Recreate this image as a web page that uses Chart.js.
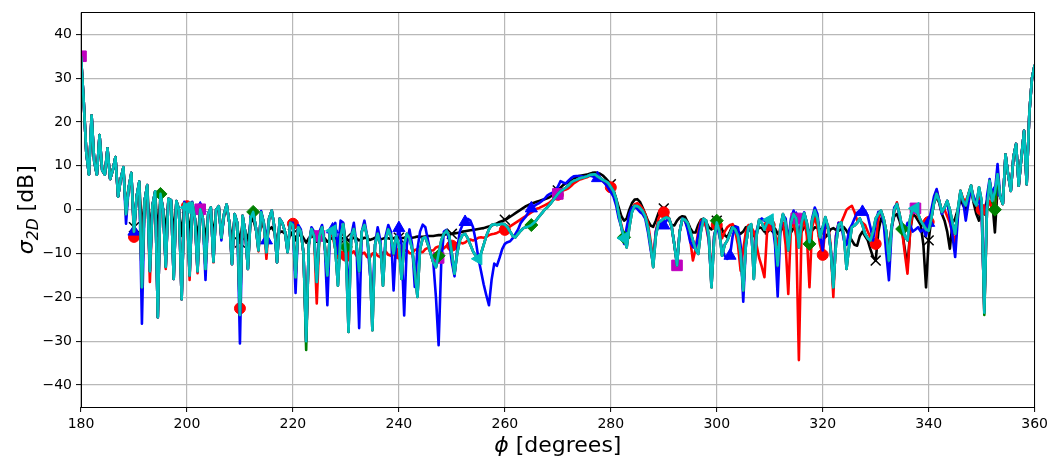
<!DOCTYPE html>
<html>
<head>
<meta charset="utf-8">
<script src="https://cdn.jsdelivr.net/npm/chart.js@4.4.1/dist/chart.umd.min.js"></script>
<style>
  html, body { margin: 0; padding: 0; background: #ffffff; }
  canvas { display: block; }
</style>
</head>
<body>
<canvas id="rcs" width="1052" height="459"></canvas>
<script>
// Observation angle phi [degrees], sampled every half degree
const phi = [
  180,180.5,181,181.5,182,182.5,183,183.5,184,184.5,
  185,185.5,186,186.5,187,187.5,188,188.5,189,189.5,
  190,190.5,191,191.5,192,192.5,193,193.5,194,194.5,
  195,195.5,196,196.5,197,197.5,198,198.5,199,199.5,
  200,200.5,201,201.5,202,202.5,203,203.5,204,204.5,
  205,205.5,206,206.5,207,207.5,208,208.5,209,209.5,
  210,210.5,211,211.5,212,212.5,213,213.5,214,214.5,
  215,215.5,216,216.5,217,217.5,218,218.5,219,219.5,
  220,220.5,221,221.5,222,222.5,223,223.5,224,224.5,
  225,225.5,226,226.5,227,227.5,228,228.5,229,229.5,
  230,230.5,231,231.5,232,232.5,233,233.5,234,234.5,
  235,235.5,236,236.5,237,237.5,238,238.5,239,239.5,
  240,240.5,241,241.5,242,242.5,243,243.5,244,244.5,
  245,245.5,246,246.5,247,247.5,248,248.5,249,249.5,
  250,250.5,251,251.5,252,252.5,253,253.5,254,254.5,
  255,255.5,256,256.5,257,257.5,258,258.5,259,259.5,
  260,260.5,261,261.5,262,262.5,263,263.5,264,264.5,
  265,265.5,266,266.5,267,267.5,268,268.5,269,269.5,
  270,270.5,271,271.5,272,272.5,273,273.5,274,274.5,
  275,275.5,276,276.5,277,277.5,278,278.5,279,279.5,
  280,280.5,281,281.5,282,282.5,283,283.5,284,284.5,
  285,285.5,286,286.5,287,287.5,288,288.5,289,289.5,
  290,290.5,291,291.5,292,292.5,293,293.5,294,294.5,
  295,295.5,296,296.5,297,297.5,298,298.5,299,299.5,
  300,300.5,301,301.5,302,302.5,303,303.5,304,304.5,
  305,305.5,306,306.5,307,307.5,308,308.5,309,309.5,
  310,310.5,311,311.5,312,312.5,313,313.5,314,314.5,
  315,315.5,316,316.5,317,317.5,318,318.5,319,319.5,
  320,320.5,321,321.5,322,322.5,323,323.5,324,324.5,
  325,325.5,326,326.5,327,327.5,328,328.5,329,329.5,
  330,330.5,331,331.5,332,332.5,333,333.5,334,334.5,
  335,335.5,336,336.5,337,337.5,338,338.5,339,339.5,
  340,340.5,341,341.5,342,342.5,343,343.5,344,344.5,
  345,345.5,346,346.5,347,347.5,348,348.5,349,349.5,
  350,350.5,351,351.5,352,352.5,353,353.5,354,354.5,
  355,355.5,356,356.5,357,357.5,358,358.5,359,359.5,
  360
];

// sigma_2D [dB] for each solver
const sigmaBlack = [
  35,25,13,8,21.5,11,8,17,9,8,
  14,7,9,12,3,7,9.5,0,5,8,
  -4,3,6,-5,2,5.3,-5,1,4,-6,
  3.3,0,-5,2.3,2,-6,1.8,-0.5,-6,1.2,
  0.3,-6,1.3,-2,-6.5,-0.2,-2.5,-6.5,-1.5,0.2,
  -6.5,-0.5,0.5,-6,-1.5,0.8,-3,-7,-2,-4,
  -7.5,-3,-5,-7,-3,-2,-4.5,-7,-3,-4,
  -6.5,-4.5,-4,-5,-7,-5,-5,-5.5,-7,-5.5,
  -5.5,-7,-6,-5.5,-6.5,-7.5,-6.5,-6,-6.3,-7.3,
  -6.8,-6.2,-6.5,-7.3,-6.8,-6.3,-6.4,-7.2,-6.8,-6.4,
  -6.5,-7,-6.7,-6.4,-6.5,-7,-6.7,-6.4,-6.5,-6.9,
  -6.7,-6.4,-6.5,-6.8,-6.6,-6.4,-6.5,-6.7,-6.5,-6.3,
  -6.4,-6.5,-6.4,-6.2,-6.3,-6.4,-6.3,-6.1,-6.2,-6.2,
  -6.1,-6,-6,-6,-5.9,-5.8,-5.8,-5.7,-5.6,-5.6,
  -5.5,-5.4,-5.3,-5.2,-5,-4.9,-4.8,-4.7,-4.6,-4.5,
  -4.4,-4.3,-4.2,-4,-3.8,-3.6,-3.4,-3.1,-2.8,-2.6,
  -2.3,-2,-1.6,-1.2,-0.8,-0.4,0,0.4,0.8,1.1,
  1.4,1.6,1.8,2,2.2,2.4,2.6,2.9,3.3,3.8,
  4.4,5,5.6,6,6.3,6.6,7,7.4,7.7,7.8,
  7.9,8,8.2,8.4,8.5,8.4,8.2,7.8,7.2,6.5,
  5.8,4.5,2.5,0.5,-1.5,-2.5,-2,0,1.5,2.3,
  2.4,1.8,0.5,-1,-2.5,-3.6,-3.9,-2.5,-0.8,0.2,
  0.3,-0.8,-2.5,-3.5,-3.6,-2.5,-1.8,-1.5,-1.6,-2.8,
  -4.2,-5.2,-5.2,-3.5,-2.3,-2.1,-2.8,-4,-4.5,-3.5,
  -2.5,-3,-4.5,-5.8,-6.3,-5,-3.6,-3.8,-5,-5.5,
  -5,-4,-3.8,-5,-6,-5,-4,-4.2,-5,-5.2,
  -4.5,-4,-4.3,-5.5,-5,-4,-4.2,-5.5,-5.2,-4.2,
  -4.5,-5.8,-5,-4,-4.2,-5,-4.8,-4,-4.2,-4.5,
  -5,-6.3,-5.5,-4.5,-4.2,-4.6,-4.8,-4.5,-4,-4.8,
  -6,-7,-8,-8.2,-6,-5,-6,-7,-9,-10.8,
  -11.6,-5,-2,-3,-6,-8.5,-4,-1.5,-1,-2.5,
  -5,-9,-13.1,-5,-1,-1.5,-2.5,-3.5,-8,-17.7,
  -7,-2,1.5,3,1.5,-1,-2.5,-5,-8.9,-3,
  -2,0,2.5,1,0,3,4.5,1.5,-1,-2.5,
  -0.5,0,2,5,2,-5.2,5,3,1.3,12.6,
  8,4.3,12,15,5.5,12,18,5.8,22,30,
  33
];

const sigmaRed = [
  35,25,13,8,21.5,11,8,17,9,8,
  14,7,9,12,3,7,9.7,-1,5,8.4,
  -6.2,3,6.4,-17.7,2,5.6,-16.5,1,4.2,-24.5,
  3.6,0,-13.5,2.5,2.2,-15.8,2,0,-20.4,1.4,
  0.8,-16,1.6,-2,-14.5,0.1,-2,-13.5,-1,0.5,
  -12,0,0.8,-6.4,-1,1.2,-3,-12.4,-1,-3,
  -22.5,-1.4,-5,-13.5,-2,-0.5,-4,-9.5,-0.6,-3,
  -11.2,-2,-0.2,-4,-12,-2.1,-3,-5,-9.7,-3,
  -3.2,-15.4,-4,-5,-10,-30,-8,-4.4,-6,-21.4,
  -6,-4,-8,-15,-5,-6,-9,-11,-9.5,-9.8,
  -10.5,-11.5,-10,-9.5,-10.5,-11,-10,-9.8,-10.8,-11,
  -10,-9.7,-10.5,-10.8,-9.8,-9.5,-10.3,-10.5,-9.6,-9.3,
  -10,-10.2,-9.4,-9.2,-9.9,-10,-9.2,-9,-9.6,-9.7,
  -9,-8.7,-9.3,-9.3,-8.6,-8.4,-9,-8.8,-8.2,-8,
  -8.2,-8.2,-7.6,-7.4,-7.7,-7.5,-7,-6.8,-7,-6.8,
  -6.4,-6.3,-6.4,-6.2,-5.8,-5.6,-5.5,-5.3,-5,-4.8,
  -4.6,-4.2,-3.8,-3.4,-3,-2.6,-2.2,-1.8,-1.4,-1,
  -0.6,-0.2,0.2,0.4,0.7,1,1.3,1.7,2.2,2.8,
  3.4,4,4.4,4.6,4.9,5.4,6,6.4,6.8,7,
  7.2,7.4,7.7,7.8,7.8,7.4,6.9,6.5,6,5.6,
  5.1,4,2,-1,-3.5,-6,-7.5,-3,0,1.2,
  1.5,1,0.2,-1,-3,-7,-11.5,-5,-2,-0.8,
  -0.6,-1,-2,-4,-8,-12,-5,-2.2,-2.5,-4,
  -7,-11.6,-9,-5,-2.5,-2.5,-4,-7,-15,-6,
  -3.5,-4,-6.5,-5,-4,-3.5,-3.3,-5,-8,-13.9,
  -9,-5,-3.5,-4,-5,-8,-11,-13,-15.4,-5,
  -3.5,-4,-5.5,-8,-4,-3,-8,-19.2,-4,-3,
  -6,-34.3,-5,-1.7,-6,-17.7,-4,-1.7,-4,-8,
  -10.3,-4,-3.5,-8,-19.9,-6,-3,-2.9,-1.5,0,
  0.5,0.9,-0.5,-2.5,-2.5,-3,-3.5,-5,-6.3,-7.5,
  -7.8,-2,-0.5,-2,-5,-10,-4,-0.5,1.7,-1,
  -5,-10,-14.6,-5,0,0,-1.5,-2.5,-3.2,-3,
  -2.8,-1,2,4.5,2,-0.5,0,-1.5,-3,-5.5,
  -7.8,-1,4.3,2.5,2,3.5,5.5,2,1,4.5,
  0,-23,0,2,0,-1,7,3,1.3,12.6,
  8,4.3,12,15,5.5,12,18,5.8,22,30,
  33
];

const sigmaBlue = [
  35,25,13,8,21.5,11,8,17,9,8,
  14,7,9,12,3,7,9.7,-3.2,5,8.4,
  -5,3,6.4,-26,2,5.6,-14,1,4.2,-24.5,
  3.6,0,-13,2.5,2.2,-15.8,2,0,-20.4,1.8,
  0.8,-15,1.8,-2,-14,0.3,-2,-16,-1,0.5,
  -11.8,0,0.8,-7,-1,1.2,-3,-12.4,-1,-3,
  -30.5,-1.4,-5,-13.5,-1.5,-0.5,-4,-9,-0.3,-3,
  -7,-2,-0.2,-4,-12,-2,-3,-5,-9.7,-3,
  -3,-19,-3.5,-4.5,-10,-30,-8,-4,-5,-16,
  -5,-3.5,-8,-21.8,-5,-4.5,-3,-10,-2.5,-3,
  -8,-20,-6,-3,-8,-27,-5,-2.5,-6,-14,
  -20,-8,-4,-7,-16,-6,-3.5,-5,-18.4,-7,
  -4.2,-8,-24.1,-8,-4.5,-8,-17.6,-9,-5,-3.4,
  -4,-7,-10,-12,-20,-30.9,-12,-5,-4.6,-7,
  -12,-15.2,-9,-5,-3.5,-2.8,-2.1,-2.5,-4,-7,
  -11,-14,-17,-19.5,-21.8,-16,-12.3,-12.8,-11,-9,
  -7.8,-7.4,-7.2,-6.5,-5.5,-4.5,-3,-2.2,-1.5,-0.5,
  0.3,0.8,1.2,1.5,2,2.5,3.2,3.6,3.9,4.4,
  5.2,6.5,6.2,6,6.6,7.2,7.6,7.7,7.7,7.6,
  7.5,7.6,7.8,7.6,7.4,7.2,7,6.5,5.8,5,
  4,3,1,-2,-4,-7.8,-4,-1,0.5,0.7,
  0.2,-0.5,-1,-2,-5,-9,-12.3,-5,-3,-3.5,
  -3.6,-2.5,-2,-4,-8,-12.3,-5,-2,-2.5,-4.5,
  -7.4,-8.5,-8.8,-6,-3,-2.1,-3,-7,-17,-6,
  -3.3,-6,-9,-10.5,-11.2,-10.5,-6,-3.8,-4,-8,
  -21,-8,-4,-5,-13.5,-5,-2.5,-2,-2.5,-2,
  -2.3,-3,-8,-19.8,-5,-1.2,-2,-7.5,-2,-0.2,
  -2,-6.5,-2,-0.6,-3,-7,-2,0.5,-1,-6,
  -9.3,-2,-4,-9,-16.5,-6,-3,-3.5,-7,-8,
  -4.5,-3.5,-2,-0.7,-0.2,-0.5,-0.2,-1.5,-4,-7,
  -3,-0.5,-0.5,-3,-10,-16.1,-5,0.5,1.3,-1.5,
  -4,-5,-3,-3.5,-5,-4.5,-4,-5,-4.5,-6,
  -3,0,3,4.7,2,-1,0.5,2,-2,-6,
  -10.8,-2,4,2,-2.5,1.5,5,3,1.5,2,
  -1,-22,3,7,3,4,10.4,3,1.5,12.6,
  8,4.3,12,15,5.5,12,18,5.8,22,30,
  33
];

const sigmaMagenta = [
  35,25,13,8,21.5,11,8,17,9,8,
  14,7,9,12,3,7,9.7,-1,5,8.4,
  -5,3,6.4,-17.7,2,5.6,-14,1,4.2,-24.5,
  3.6,0,-13,2.5,2.2,-15.8,2,0,-20.4,1.4,
  0.5,-15,1.6,-2,-14,0.1,-2,-13.5,-1,0.5,
  -11.8,0,0.8,-6.4,-1,1.2,-3,-12.4,-1,-3,
  -24,-1.4,-5,-13.5,-2,-0.5,-4,-9.3,-0.6,-3,
  -9.7,-2,-0.2,-4,-12,-2.1,-3,-5,-9.7,-3,
  -3.5,-15.4,-4,-5,-10,-30,-8,-4.4,-6,-16.5,
  -6,-4,-8,-15,-5,-4.8,-9,-17.3,-6,-3.3,
  -10,-27.9,-6,-4.4,-8,-14,-5,-3.5,-6,-12,
  -27.5,-8,-5.5,-8,-17.3,-7,-4.5,-6,-10,-6,
  -8,-15.8,-8,-5.5,-6.5,-9,-14,-19.9,-9,-6.5,
  -6.3,-8,-10,-12,-13.1,-11,-7,-5.5,-4.8,-6,
  -10,-14.6,-10,-7,-5.8,-5.5,-6.5,-8,-9.5,-10.5,
  -11.2,-10,-8,-6,-4.5,-3.5,-3.3,-3.5,-3.3,-3.2,
  -3.4,-4,-5,-6,-6.3,-5.5,-4.8,-4.2,-4,-3.8,
  -3.5,-3,-2.3,-1.5,-0.8,0,0.5,1.2,2,2.8,
  3.6,4.2,4.6,5,5.5,6.2,6.6,6.8,7.1,7.3,
  7.4,7.6,7.9,8,8.1,7.6,7.2,6.8,6.5,6.1,
  5.2,4.2,2.5,-1,-4,-6.5,-8.6,-4,-0.5,0.9,
  0.8,0.4,-0.3,-1.5,-4,-8,-13.1,-6,-3,-2.5,
  -2,-1.8,-2,-4,-8,-12.7,-5,-2.1,-2.3,-3,
  -5,-7,-9,-10.1,-5,-2.1,-2.5,-6,-17.7,-7,
  -2.9,-5,-10.5,-8,-7,-5.5,-4,-4.5,-6,-10,
  -18.4,-8,-4,-3.3,-15.8,-6,-2.3,-3,-4.5,-3,
  -2.3,-2.1,-6,-12.7,-4,-1,-3,-9.3,-3,-1,
  -2,-8.6,-3,-0.8,-3,-7.4,-2.5,-0.2,-2,-6.3,
  -4,-1.7,-4,-9,-17.7,-8,-3.5,-2.9,-6,-13.5,
  -8,-4,-3.6,-3,-2,-3.5,-5.5,-6.5,-7,-5,
  -2,-1,-0.2,-2,-5,-11.6,-4,0,1.3,-1,
  -4,-6,-7,-2,0.5,0.3,-1,-2.5,-3.5,-4.5,
  -4.8,-2,1.5,3.6,2,-0.5,0.5,2,0,-3,
  -5.5,0,4.3,2,1,3.5,5.5,2,1,5.1,
  2,-23.5,0,6.6,2,4,8.1,3,1.3,12.6,
  8,4.3,12,15,5.5,12,18,5.8,22,30,
  33
];

const sigmaGreen = [
  35,25,13,8,21.5,11,8,17,9,8,
  14,7,9,12,3,7,9.7,-1,5,8.4,
  -5,3,6.4,-17.7,2,5.6,-14,1,4.2,-24.5,
  3.6,0,-13,2.5,2.2,-15.8,2,0,-20.4,1.4,
  0.5,-15,1.6,-2,-14,0.1,-2,-13.5,-1,0.5,
  -11.8,0,0.8,-6.4,-1,1.2,-3,-12.4,-1,-3,
  -24,-1.4,-5,-13.5,-2,-0.5,-4,-9.3,-0.6,-3,
  -9.7,-2,-0.2,-4,-12,-2.1,-3,-5,-9.7,-3,
  -3.5,-15.4,-4,-5,-10,-32,-8,-4.4,-6,-16.5,
  -6,-4,-8,-15,-5,-4.8,-9,-17.3,-6,-3.3,
  -8.5,-27.9,-6,-4.4,-8,-14,-5,-3.5,-6,-12,
  -27.5,-8,-5.5,-8,-17.3,-7,-4.5,-6,-10,-6,
  -8,-15.8,-8,-5.5,-6.5,-9,-14,-19.9,-9,-6.5,
  -6.3,-8,-10,-12,-13.1,-10.5,-7,-5.5,-4.8,-6,
  -10,-14.6,-10,-7,-5.8,-5.5,-6.5,-8,-9.5,-10.5,
  -11.2,-10,-8,-6,-4.5,-3.5,-3.3,-3.5,-3.3,-3.2,
  -3.4,-4,-5,-6,-6.3,-5.5,-4.8,-4.2,-4,-3.8,
  -3.5,-3,-2.3,-1.5,-0.8,0,0.5,1.2,2,2.8,
  3.6,4.2,4.6,5,5.5,6.2,6.6,6.8,7.1,7.3,
  7.4,7.6,7.9,8,8.1,7.6,7.2,6.8,6.5,6.1,
  5.2,4.2,2.5,-1,-4,-6.3,-8.6,-4,-0.5,0.9,
  0.8,0.4,-0.3,-1.5,-4,-8,-13.1,-6,-3,-2.5,
  -2,-1.8,-2,-4,-8,-12.7,-5,-2.1,-2.3,-3,
  -5,-7,-9,-10.1,-5,-2.1,-2.5,-6,-17.7,-7,
  -2.5,-5,-10.5,-8,-7,-5.5,-4,-4.5,-6,-10,
  -18.4,-8,-4,-3.3,-15.8,-6,-2.3,-3,-4.5,-3,
  -2.3,-2.1,-6,-12.7,-4,-1,-3,-9.3,-3,-1,
  -2,-8.6,-3,-0.8,-3,-7.8,-2.5,-0.2,-2,-6.3,
  -4,-1.7,-4,-9,-17.7,-8,-3.5,-2.9,-6,-13.5,
  -8,-4,-3.6,-3,-2,-3.5,-5.5,-6.5,-7,-5,
  -2,-1,-0.2,-2,-5,-11.6,-4,0,1.3,-1,
  -4.4,-6,-7,-2,0.5,0.3,-1,-2.5,-3.5,-4.5,
  -4.8,-2,1.5,3.6,2,-0.5,0.5,2,0,-3,
  -5.5,0,4.3,2,1,3.5,5.5,2,1,5.1,
  2,-24,0,6.6,2,0,8.1,3,1.3,12.6,
  8,4.3,12,15,5.5,12,18,5.8,22,30,
  33
];

const sigmaCyan = [
  35,25,13,8,21.5,11,8,17,9,8,
  14,7,9,12,3,7,9.7,-1,5,8.4,
  -5,3,6.4,-17.7,2,5.6,-14,1,4.2,-24.5,
  3.6,0,-13,2.5,2.2,-15.8,2,0,-20.4,1.4,
  0.5,-15,1.6,-2,-14,0.1,-2,-13.5,-1,0.5,
  -11.8,0,0.8,-6.4,-1,1.2,-3,-12.4,-1,-3,
  -24,-1.4,-5,-13.5,-2,-0.5,-4,-9.3,-0.6,-3,
  -9.7,-2,-0.2,-4,-12,-2.1,-3,-5,-9.7,-3,
  -3.5,-15.4,-4,-5,-10,-30,-8,-4.4,-6,-16.5,
  -6,-4,-8,-15,-5,-4.8,-9,-17.3,-6,-3.3,
  -10,-27.9,-6,-4.4,-8,-14,-5,-3.5,-6,-12,
  -27.5,-8,-5.5,-8,-17.3,-7,-4.5,-6,-10,-6,
  -8,-15.8,-8,-5.5,-6.5,-9,-14,-19.9,-9,-6.5,
  -6.3,-8,-10,-12,-13.1,-10,-7,-5.5,-4.8,-6,
  -10,-14.6,-10,-7,-5.8,-5.5,-6.5,-8,-9.5,-10.5,
  -11.2,-10,-8,-6,-4.5,-3.5,-3.3,-3.5,-3.3,-3.2,
  -3.4,-4,-5,-6,-6.3,-5.5,-4.8,-4.2,-4,-3.8,
  -3.5,-3,-2.3,-1.5,-0.8,0,0.5,1.2,2,2.8,
  3.6,4.2,4.6,5,5.5,6.2,6.6,6.8,7.1,7.3,
  7.4,7.6,7.9,8,8.1,7.6,7.2,6.8,6.5,6.1,
  5.2,4.2,2.5,-1,-4,-6.5,-8.6,-4,-0.5,0.9,
  0.8,0.4,-0.3,-1.5,-4,-8,-13.1,-6,-3,-2.5,
  -2,-1.8,-2,-4,-8,-12.7,-5,-2.1,-2.3,-3,
  -5,-7,-9,-10.1,-5,-2.1,-2.5,-6,-17.7,-7,
  -2.9,-5,-10.5,-8,-7,-5.5,-4,-4.5,-6,-10,
  -18.4,-8,-4,-3.3,-15.8,-6,-2.3,-3,-4.5,-3,
  -2.3,-2.1,-6,-12.7,-4,-1,-3,-9.3,-3,-1,
  -2,-8.6,-3,-0.8,-3,-7.4,-2.5,-0.2,-2,-6.3,
  -4,-1.7,-4,-9,-17.7,-8,-3.5,-2.9,-6,-13.5,
  -8,-4,-3.6,-3,-2,-3.5,-5.5,-6.5,-7,-5,
  -2,-1,-0.2,-2,-5,-11.6,-4,0,1.3,-1,
  -4,-6,-7,-2,0.5,0.3,-1,-2.5,-3.5,-4.5,
  -4.8,-2,1.5,3.6,2,-0.5,0.5,2,0,-3,
  -5.5,0,4.3,2,1,3.5,5.5,2,1,5.1,
  2,-23.5,0,6.6,2,4,8.1,3,1.3,12.6,
  8,4.3,12,15,5.5,12,18,5.8,22,30,
  33
];

// Angles at which each curve carries a marker
const marksBlack   = [190,200,210,220,230,240,250,260,270,280,290,300,310,320,330,340,350];
const marksRed     = [190,200,210,220,230,240,250,260,270,280,290,300,310,320,330,340,350];
const marksBlue    = [190,202.5,215,227.5,240,252.5,265,277.5,290,302.5,315,327.5,340,352.5];
const marksMagenta = [180,202.5,225,247.5,270,292.5,315,337.5];
const marksGreen   = [195,212.5,230,247.5,265,282.5,300,317.5,335,352.5];
const marksCyan    = [200,227.5,255,282.5,310,337.5];

// Axis ticks
const xTicks = [180,200,220,240,260,280,300,320,340,360];
const yTicks = [-40,-30,-20,-10,0,10,20,30,40];

const FONT = '"DejaVu Sans", "Liberation Sans", sans-serif';

[sigmaBlack, sigmaRed, sigmaBlue, sigmaMagenta, sigmaGreen, sigmaCyan].forEach((s, k) => {
  if (s.length !== phi.length) throw new Error('series ' + k + ' has ' + s.length + ' values, expected ' + phi.length);
});

function toPoints(values) {
  return phi.map((p, i) => ({ x: p, y: values[i] }));
}

function markerRadius(list, r) {
  return ctx => (list.indexOf(phi[ctx.dataIndex]) >= 0 ? r : 0);
}

function series(values, color, marks, style, radius, order, extra) {
  return Object.assign({
    data: toPoints(values),
    borderColor: color,
    backgroundColor: color,
    borderWidth: 2.6,
    borderJoinStyle: 'round',
    tension: 0,
    pointStyle: style,
    pointRadius: markerRadius(marks, radius),
    pointHoverRadius: 0,
    pointHitRadius: 0,
    pointBackgroundColor: color,
    pointBorderColor: color,
    pointBorderWidth: 1,
    order: order
  }, extra || {});
}

// Plot frame drawn over the curves, like axis spines
const framePlugin = {
  id: 'frame',
  afterDatasetsDraw(chart) {
    const { ctx, chartArea: a } = chart;
    ctx.save();
    ctx.strokeStyle = '#000';
    ctx.lineWidth = 1;
    ctx.strokeRect(Math.round(a.left) + 0.5, Math.round(a.top) + 0.5,
                   Math.round(a.right - a.left) - 1, Math.round(a.bottom - a.top));
    ctx.restore();
  }
};

// Axis titles with italic symbols and subscript
const titlePlugin = {
  id: 'axisTitles',
  afterDraw(chart) {
    const { ctx, chartArea: a } = chart;
    const big = 22, small = 15.5;
    ctx.save();
    ctx.fillStyle = '#000';
    ctx.textBaseline = 'alphabetic';
    ctx.textAlign = 'left';

    // x-axis title: phi [degrees]
    const xParts = [
      { t: '\u03d5', f: 'italic ' + big + 'px ' + FONT, dy: 0 },
      { t: ' [degrees]', f: big + 'px ' + FONT, dy: 0 }
    ];
    let w = 0;
    xParts.forEach(p => { ctx.font = p.f; p.w = ctx.measureText(p.t).width; w += p.w; });
    let x = (a.left + a.right) / 2 - w / 2;
    xParts.forEach(p => { ctx.font = p.f; ctx.fillText(p.t, x, 452 + p.dy); x += p.w; });

    // y-axis title: sigma_2D [dB]
    const yParts = [
      { t: '\u03c3', f: 'italic ' + big + 'px ' + FONT, dy: 0 },
      { t: '2D', f: 'italic ' + small + 'px ' + FONT, dy: 5 },
      { t: ' [dB]', f: big + 'px ' + FONT, dy: 0 }
    ];
    w = 0;
    yParts.forEach(p => { ctx.font = p.f; p.w = ctx.measureText(p.t).width; w += p.w; });
    ctx.translate(33, (a.top + a.bottom) / 2);
    ctx.rotate(-Math.PI / 2);
    x = -w / 2;
    yParts.forEach(p => { ctx.font = p.f; ctx.fillText(p.t, x, p.dy); x += p.w; });
    ctx.restore();
  }
};

const gridOpts = { color: '#b8b8b8', lineWidth: 1.2, drawTicks: true, tickLength: 5, tickColor: '#000', tickWidth: 1 };

new Chart(document.getElementById('rcs'), {
  type: 'line',
  data: {
    datasets: [
      series(sigmaBlack,   '#000000', marksBlack,   'crossRot', 7,   5, { pointBorderWidth: 1.5 }),
      series(sigmaRed,     '#ff0000', marksRed,     'circle',   5.5, 4),
      series(sigmaBlue,    '#0000ff', marksBlue,    'triangle', 7,   3),
      series(sigmaMagenta, '#bf00bf', marksMagenta, 'rect',     7.5, 2),
      series(sigmaGreen,   '#008000', marksGreen,   'rectRot',  6.5, 1),
      series(sigmaCyan,    '#00bfbf', marksCyan,    'triangle', 7,   0, { pointRotation: -90 })
    ]
  },
  options: {
    responsive: false,
    animation: false,
    devicePixelRatio: 1,
    events: [],
    layout: { padding: { top: 11, right: 17, bottom: 0, left: 0 } },
    plugins: { legend: { display: false }, tooltip: { enabled: false }, title: { display: false } },
    scales: {
      x: {
        type: 'linear',
        min: 180, max: 360,
        afterBuildTicks: s => { s.ticks = xTicks.map(v => ({ value: v })); },
        afterFit: s => { s.height = 52; },
        ticks: { color: '#000', font: { family: FONT, size: 14 }, padding: 4, maxRotation: 0, autoSkip: false },
        grid: gridOpts,
        border: { display: false }
      },
      y: {
        type: 'linear',
        min: -45, max: 45,
        afterBuildTicks: s => { s.ticks = yTicks.map(v => ({ value: v })); },
        afterFit: s => { s.width = 81; },
        ticks: {
          color: '#000', font: { family: FONT, size: 14 }, padding: 4, autoSkip: false,
          callback: v => (v < 0 ? '\u2212' + Math.abs(v) : String(v))
        },
        grid: gridOpts,
        border: { display: false }
      }
    }
  },
  plugins: [framePlugin, titlePlugin]
});
</script>
</body>
</html>
